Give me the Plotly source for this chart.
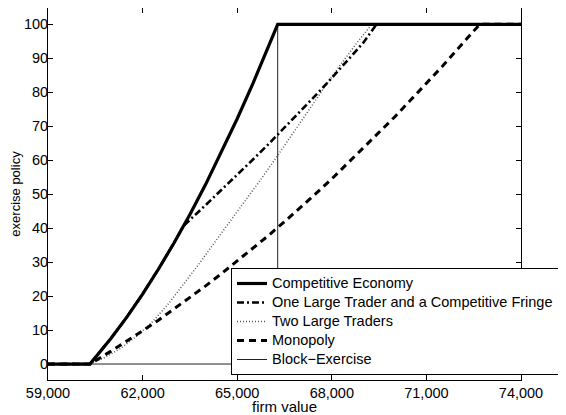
import plotly.graph_objects as go

# ---- data ----
comp_x = [59000, 60330, 61000, 61500, 62000, 62500, 63000, 63500, 64000, 64500, 65000, 65500, 66000, 66284, 74000]
comp_y = [0, 0, 7.6, 13.8, 20.6, 27.9, 35.7, 44.0, 52.9, 62.3, 72.2, 82.6, 93.6, 100, 100]

one_x = [59000, 60330, 61000, 61500, 62000, 62500, 63000, 63300, 64000, 64500, 65000, 65500, 66000, 66500,
         67000, 67500, 68000, 68500, 69000, 69420, 74000]
one_y = [0, 0, 7.6, 13.8, 20.6, 27.9, 35.7, 40.7, 46.8, 51.2, 55.7, 60.2, 64.8, 69.5,
         74.3, 79.2, 84.2, 89.3, 94.6, 100, 100]

two_x = [59000, 60330, 60800, 61300, 61800, 62300, 62800, 63300, 63800, 64300, 64800, 65300, 65800,
         66300, 66800, 67300, 67800, 68300, 68800, 69270, 74000]
two_y = [0, 0, 1.9, 4.6, 8.1, 12.3, 17.5, 23.4, 29.6, 36.0, 42.3, 48.6, 55.0,
         61.6, 68.4, 75.2, 81.9, 88.4, 94.6, 100, 100]

mono_x = [59000, 60330, 61000, 61500, 62000, 62500, 63000, 63500, 64000, 64500, 65000, 65500, 66000, 66500,
          67000, 67500, 68000, 68500, 69000, 69500, 70000, 70500, 71000, 71500, 72000, 72500, 72690, 74000]
mono_y = [0, 0, 3.8, 6.7, 9.8, 12.9, 16.2, 19.5, 23.0, 26.6, 30.3, 34.1, 37.9, 41.9,
          46.0, 50.2, 54.5, 59.0, 63.5, 68.1, 72.8, 77.7, 82.6, 87.6, 92.8, 98.0, 100, 100]

block_x = [59000, 66284, 66284, 74000]
block_y = [0, 0, 100, 100]

x_ticks = [59000, 62000, 65000, 68000, 71000, 74000]
x_tick_labels = ["59,000", "62,000", "65,000", "68,000", "71,000", "74,000"]
y_ticks = [0, 10, 20, 30, 40, 50, 60, 70, 80, 90, 100]

names = ["Competitive Economy", "One Large Trader and a Competitive Fringe",
         "Two Large Traders", "Monopoly", "Block\u2212Exercise"]

FONT = "Liberation Sans, Arial, Helvetica, sans-serif"


def leg(t):
    return '<span style="font-size:14.5px">' + t + '</span>'


fig = go.Figure()
fig.add_trace(go.Scatter(x=block_x, y=block_y, mode="lines", name=leg(names[4]), legendrank=5,
                         line=dict(color="#222222", width=1)))
fig.add_trace(go.Scatter(x=two_x, y=two_y, mode="lines", name=leg(names[2]), legendrank=3,
                         line=dict(color="#555555", width=1.5, dash="1px,2px")))
fig.add_trace(go.Scatter(x=mono_x, y=mono_y, mode="lines", name=leg(names[3]), legendrank=4,
                         line=dict(color="black", width=3, dash="7px,5px")))
fig.add_trace(go.Scatter(x=one_x, y=one_y, mode="lines", name=leg(names[1]), legendrank=2,
                         line=dict(color="black", width=2.6, dash="7px,3px,2px,3px")))
fig.add_trace(go.Scatter(x=comp_x, y=comp_y, mode="lines", name=leg(names[0]), legendrank=1,
                         line=dict(color="black", width=3.2)))

axis_common = dict(showline=True, linecolor="black", linewidth=1, mirror="ticks",
                   ticks="inside", ticklen=5, tickcolor="black", showgrid=False,
                   zeroline=False, automargin=False,
                   tickfont=dict(family=FONT, size=14.5, color="black"))

# page body has an 8px margin, so the figure is 8px smaller and the plot box starts at (40, 0)
FIG_W, FIG_H = 558, 407
PLOT_W = 473

fig.update_xaxes(range=[59000, 74000], tickvals=x_ticks, ticktext=x_tick_labels,
                 domain=[0, PLOT_W / 518], ticklabelstandoff=0,
                 title=dict(text="firm value", font=dict(family=FONT, size=15, color="black"), standoff=0),
                 **axis_common)
fig.update_yaxes(range=[-4.7, 104.8], tickvals=y_ticks, ticklabelstandoff=-4,
                 title=dict(text="exercise policy", font=dict(family=FONT, size=13, color="black"), standoff=4),
                 **axis_common)

fig.update_layout(
    width=FIG_W, height=FIG_H,
    margin=dict(l=40, r=0, t=0, b=35, pad=0),
    paper_bgcolor="white", plot_bgcolor="white",
    font=dict(family=FONT, color="black"),
    legend=dict(x=(223 - 40) / 518, y=(372 - 260) / 372,
                xanchor="left", yanchor="top",
                bgcolor="white", bordercolor="black", borderwidth=1,
                font=dict(family=FONT, size=11, color="black"),
                tracegroupgap=0, itemwidth=30, traceorder="normal"),
    showlegend=True,
)

fig.write_html("out.html")
